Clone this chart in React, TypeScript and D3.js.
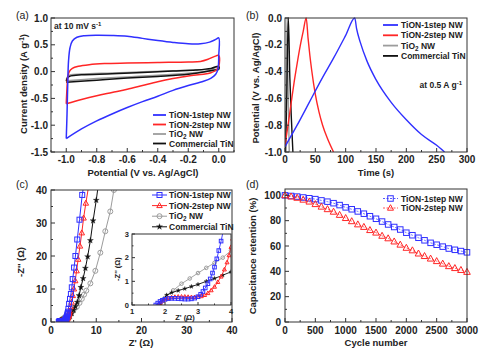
import React from 'react';
import * as d3 from 'd3';

type P = [number, number];

// ---------- Panel (a): CV ----------
const cvBlue: P[] = [[-1.0,-1.25],[-0.995,-0.8],[-0.99,-0.2],[-0.985,0.2],[-0.975,0.45],[-0.96,0.57],[-0.93,0.64],[-0.88,0.67],[-0.8,0.68],[-0.7,0.675],[-0.6,0.66],[-0.5,0.62],[-0.4,0.58],[-0.3,0.545],[-0.2,0.52],[-0.12,0.52],[-0.06,0.55],[-0.02,0.6],[0.0,0.63],[0.0,0.3],[-0.005,0.05],[-0.02,-0.05],[-0.05,-0.12],[-0.1,-0.18],[-0.2,-0.26],[-0.3,-0.35],[-0.4,-0.46],[-0.5,-0.56],[-0.6,-0.67],[-0.7,-0.79],[-0.8,-0.92],[-0.9,-1.07],[-1.0,-1.25]];
const cvRed: P[] = [[-1.0,-0.6],[-0.995,-0.3],[-0.99,-0.1],[-0.98,0.0],[-0.96,0.06],[-0.92,0.1],[-0.85,0.13],[-0.75,0.15],[-0.6,0.16],[-0.4,0.17],[-0.2,0.18],[-0.12,0.19],[-0.07,0.23],[-0.03,0.28],[0.0,0.3],[0.0,0.1],[-0.02,0.02],[-0.05,-0.02],[-0.1,-0.05],[-0.2,-0.08],[-0.3,-0.13],[-0.4,-0.19],[-0.5,-0.26],[-0.6,-0.33],[-0.7,-0.39],[-0.8,-0.45],[-0.9,-0.52],[-1.0,-0.6]];
const cvGray: P[] = [[-1.0,-0.15],[-0.99,-0.09],[-0.97,-0.06],[-0.9,-0.045],[-0.7,-0.025],[-0.5,-0.005],[-0.3,0.015],[-0.15,0.03],[-0.05,0.05],[0.0,0.08],[0.0,0.04],[-0.05,0.01],[-0.2,-0.03],[-0.4,-0.07],[-0.6,-0.1],[-0.8,-0.13],[-1.0,-0.17]];
const cvBlack: P[] = [[-1.0,-0.18],[-0.99,-0.11],[-0.97,-0.08],[-0.9,-0.06],[-0.7,-0.04],[-0.5,-0.015],[-0.3,0.01],[-0.15,0.03],[-0.05,0.06],[0.0,0.1],[0.0,0.05],[-0.05,0.02],[-0.2,-0.05],[-0.4,-0.09],[-0.6,-0.12],[-0.8,-0.16],[-1.0,-0.2]];
const aXTicks = [-1.0,-0.8,-0.6,-0.4,-0.2,0.0];
const aXLabels = ['-1.0','-0.8','-0.6','-0.4','-0.2','0.0'];
const aYTicks = [-1.5,-1.0,-0.5,0.0,0.5,1.0];
const aYLabels = ['-1.5','-1.0','-0.5','0.0','0.5','1.0'];

// ---------- Panel (b): GCD ----------
const gcdBlue: P[] = [[0,-0.96],[20,-0.8],[40,-0.63],[60,-0.46],[80,-0.3],[100,-0.13],[115,0],[118,-0.08],[124,-0.18],[135,-0.32],[150,-0.46],[175,-0.63],[200,-0.76],[225,-0.87],[250,-0.95],[263,-1.0]];
const gcdRed: P[] = [[0,-0.95],[5,-0.8],[10,-0.64],[15,-0.48],[20,-0.34],[25,-0.21],[30,-0.1],[35,0],[38,-0.15],[41,-0.28],[44,-0.39],[50,-0.57],[56,-0.7],[62,-0.8],[70,-0.9],[80,-1.0]];
const gcdGray: P[] = [[0.5,-1.0],[2,-0.5],[3.5,0],[5,-0.5],[7,-1.0]];
const gcdBlack: P[] = [[1,-1.0],[3,-0.55],[5.5,0],[8,-0.45],[10.5,-0.75],[13,-1.0]];
const bXTicks = [0,50,100,150,200,250,300];
const bYTicks = [-1.0,-0.8,-0.6,-0.4,-0.2,0.0];
const bYLabels = ['-1.0','-0.8','-0.6','-0.4','-0.2','0.0'];

// ---------- Panel (c): Nyquist ----------
const nyBlueLow: P[] = [[1.72,0.0],[1.78,0.08],[1.85,0.15],[1.92,0.2],[2.0,0.24],[2.1,0.27],[2.2,0.28],[2.3,0.28],[2.4,0.27],[2.5,0.26],[2.6,0.25],[2.7,0.25],[2.8,0.26],[2.9,0.29],[3.0,0.35],[3.08,0.45],[3.15,0.57],[3.22,0.72],[3.3,0.9],[3.37,1.1],[3.44,1.35],[3.5,1.6],[3.57,1.95],[3.63,2.3],[3.7,2.7],[3.76,3.1]];
const nyBlueHigh: P[] = [[3.85,4],[4.0,5.5],[4.2,7],[4.4,8.5],[4.6,10.5],[4.8,13],[5.1,16.5],[5.4,20],[5.8,25],[6.3,31],[6.9,38.5],[7.2,41]];
const nyRedLow: P[] = [[1.8,0.0],[1.86,0.1],[1.93,0.18],[2.0,0.24],[2.1,0.29],[2.2,0.32],[2.3,0.34],[2.4,0.35],[2.5,0.35],[2.6,0.35],[2.7,0.34],[2.8,0.33],[2.9,0.33],[3.0,0.34],[3.1,0.37],[3.2,0.42],[3.3,0.5],[3.4,0.62],[3.5,0.77],[3.6,0.97],[3.7,1.2],[3.8,1.5],[3.88,1.8],[3.94,2.1],[4.0,2.45],[4.05,2.8]];
const nyRedHigh: P[] = [[4.15,3.3],[4.35,4.6],[4.55,6],[4.8,8],[5.05,10],[5.35,12.5],[5.65,15.5],[6.0,19],[6.4,23],[6.8,27],[7.2,31.5],[7.7,36],[8.3,41]];
const nyGrayLow: P[] = [[1.85,0.0],[2.0,0.3],[2.25,0.62],[2.5,0.9],[2.75,1.12],[3.0,1.35],[3.25,1.57],[3.5,1.78],[3.75,2.0],[4.0,2.3]];
const nyGrayHigh: P[] = [[4.3,2.7],[4.6,3.1],[5.0,3.7],[5.7,4.6],[6.3,5.8],[6.8,7],[7.3,8.3],[7.8,9.5],[8.7,11.7],[9.8,15.5],[10.9,21],[12.0,27.5],[13.1,33.5],[13.9,40],[14.1,41.5]];
const nyBlackLow: P[] = [[1.85,0.0],[1.95,0.25],[2.05,0.42],[2.2,0.52],[2.4,0.61],[2.6,0.69],[2.8,0.78],[3.0,0.87],[3.25,1.0],[3.5,1.12],[3.75,1.26],[4.0,1.4]];
const nyBlackHigh: P[] = [[4.2,1.7],[4.6,2.6],[5.0,3.6],[5.4,4.7],[5.8,6],[6.2,8],[6.6,10.5],[7.1,13.2],[7.6,16.3],[8.1,19.8],[8.7,24.7],[9.3,30.7],[10.0,36.9],[10.4,41]];
const cTicks = [0,10,20,30,40];
const insetXTicks = [1,2,3,4];
const insetYTicks = [0,1,2,3];

// ---------- Panel (d): cycling ----------
const cycles = [0,100,200,300,400,500,600,700,800,900,1000,1100,1200,1300,1400,1500,1600,1700,1800,1900,2000,2100,2200,2300,2400,2500,2600,2700,2800,2900,3000];
const retBlue = [100,99.5,99,98.3,97.7,97,96,95,93.8,92.3,90.5,89,87.3,85.5,83.5,81.5,79.3,77,75,73,70.5,68.5,66.5,64.5,62.5,61,59.5,58,57,56,55];
const retRed = [100,99,98,96.5,95,93,91,89,87,84.5,82,79.5,77,75,72.5,70.5,68,66,63.5,61,58.5,56.5,54,52,50,48,46,44,42.5,41,39.5];
const dXTicks = [0,500,1000,1500,2000,2500,3000];
const dYTicks = [0,20,40,60,80,100];

const seriesNames = ['TiON-1step NW','TiON-2step NW','TiO2 NW','Commercial TiN'];

const FONT = "'Liberation Sans', Arial, Helvetica, sans-serif";
const BLUE = '#3030ff';
const RED = '#ff2626';
const GRAY = '#9c9c9c';
const BLACK = '#111111';
const FRAME = '#333333';

type Scale = d3.ScaleLinear<number, number>;

function Frame({ xs, ys, xMaj, xMin, yMaj, yMin, xLab, yLab, fs = 10, xLabOff = 11, yLabOff = 3, tick = 4 }:
  { xs: Scale; ys: Scale; xMaj: number[]; xMin: number[]; yMaj: number[]; yMin: number[]; xLab: string[]; yLab: string[]; fs?: number; xLabOff?: number; yLabOff?: number; tick?: number }) {
  const [x0, x1] = xs.range();
  const [y1, y0] = ys.range();
  return (
    <g>
      <rect x={x0} y={y0} width={x1 - x0} height={y1 - y0} fill="none" stroke={FRAME} strokeWidth={1} />
      {xMaj.map((t, i) => <line key={'xM' + i} x1={xs(t)} x2={xs(t)} y1={y1} y2={y1 - tick} stroke={FRAME} />)}
      {xMin.map((t, i) => <line key={'xm' + i} x1={xs(t)} x2={xs(t)} y1={y1} y2={y1 - tick / 2} stroke={FRAME} />)}
      {yMaj.map((t, i) => <line key={'yM' + i} x1={x0} x2={x0 + tick} y1={ys(t)} y2={ys(t)} stroke={FRAME} />)}
      {yMin.map((t, i) => <line key={'ym' + i} x1={x0} x2={x0 + tick / 2} y1={ys(t)} y2={ys(t)} stroke={FRAME} />)}
      {xMaj.map((t, i) => <text key={'xl' + i} x={xs(t)} y={y1 + xLabOff} textAnchor="middle" fontSize={fs} fontWeight="bold" fill="#222">{xLab[i]}</text>)}
      {yMaj.map((t, i) => <text key={'yl' + i} x={x0 - yLabOff} y={ys(t) + fs * 0.35} textAnchor="end" fontSize={fs} fontWeight="bold" fill="#222">{yLab[i]}</text>)}
    </g>
  );
}

function Marker({ type, x, y, s, color }: { type: string; x: number; y: number; s: number; color: string }) {
  if (type === 'square') return <rect x={x - s / 2} y={y - s / 2} width={s} height={s} fill="none" stroke={color} strokeWidth={1} />;
  if (type === 'triangle') return <path d={`M${x},${y - s * 0.6}L${x - s * 0.55},${y + s * 0.4}L${x + s * 0.55},${y + s * 0.4}Z`} fill="none" stroke={color} strokeWidth={1} />;
  if (type === 'circle') return <circle cx={x} cy={y} r={s / 2} fill="none" stroke={color} strokeWidth={1} />;
  const sym = d3.symbol().type(d3.symbolStar).size(s * s * 0.45)();
  return <path d={sym || ''} transform={`translate(${x},${y})`} fill={color} stroke={color} strokeWidth={0.3} />;
}

function LegendName({ name }: { name: string }) {
  if (name === 'TiO2 NW') return <>TiO<tspan fontSize="0.75em" dy={2}>2</tspan><tspan dy={-2}> NW</tspan></>;
  return <>{name}</>;
}

const frameA = { x0: 51, x1: 234, y0: 18, y1: 152 };
const frameB = { x0: 285, x1: 467, y0: 18, y1: 152 };
const frameC = { x0: 51, x1: 232, y0: 190, y1: 322 };
const frameD = { x0: 285, x1: 467, y0: 189, y1: 322 };
const frameI = { x0: 132, x1: 231, y0: 234, y1: 305 };

export default function App() {
  const xA = d3.scaleLinear().domain([-1.1, 0.1]).range([frameA.x0, frameA.x1]);
  const yA = d3.scaleLinear().domain([-1.5, 1.0]).range([frameA.y1, frameA.y0]);
  const xB = d3.scaleLinear().domain([0, 300]).range([frameB.x0, frameB.x1]);
  const yB = d3.scaleLinear().domain([-1.0, 0.0]).range([frameB.y1, frameB.y0]);
  const xC = d3.scaleLinear().domain([0, 40]).range([frameC.x0, frameC.x1]);
  const yC = d3.scaleLinear().domain([0, 40]).range([frameC.y1, frameC.y0]);
  const xI = d3.scaleLinear().domain([1, 4]).range([frameI.x0, frameI.x1]);
  const yI = d3.scaleLinear().domain([0, 3]).range([frameI.y1, frameI.y0]);
  const xD = d3.scaleLinear().domain([0, 3000]).range([frameD.x0, frameD.x1]);
  const yD = d3.scaleLinear().domain([0, 105]).range([frameD.y1, frameD.y0]);

  const mk = (xs: Scale, ys: Scale, curve: d3.CurveFactory = d3.curveCatmullRom.alpha(0.5)) =>
    d3.line<P>().x(d => xs(d[0])).y(d => ys(d[1])).curve(curve);
  const lineA = mk(xA, yA);
  const lineB = mk(xB, yB, d3.curveMonotoneX);
  const lineC = mk(xC, yC, d3.curveLinear);
  const lineI = mk(xI, yI, d3.curveLinear);
  const lineD = mk(xD, yD, d3.curveLinear);

  const cvSeries = [
    { d: cvGray, c: GRAY }, { d: cvBlack, c: BLACK }, { d: cvRed, c: RED }, { d: cvBlue, c: BLUE },
  ];
  const gcdSeries = [
    { d: gcdGray, c: GRAY }, { d: gcdBlack, c: BLACK }, { d: gcdRed, c: RED }, { d: gcdBlue, c: BLUE },
  ];
  const nySeries = [
    { d: nyGrayLow.concat(nyGrayHigh), c: GRAY, m: 'circle' },
    { d: nyBlackLow.concat(nyBlackHigh), c: BLACK, m: 'star' },
    { d: nyRedLow.concat(nyRedHigh), c: RED, m: 'triangle' },
    { d: nyBlueLow.concat(nyBlueHigh), c: BLUE, m: 'square' },
  ];
  const legendColors = [BLUE, RED, GRAY, BLACK];
  const legendMarkers = ['square', 'triangle', 'circle', 'star'];

  const minorRange = (a: number, b: number, step: number, major: number[]) =>
    d3.range(a, b + step / 2, step).filter(v => !major.some(m => Math.abs(m - v) < step / 10));

  const dBlue: P[] = cycles.map((c, i) => [c, retBlue[i]]);
  const dRed: P[] = cycles.map((c, i) => [c, retRed[i]]);

  return (
    <svg width={488} height={354} style={{ position: 'absolute', left: 0, top: 0, background: '#fff' }} fontFamily={FONT}>
      <defs>
        <clipPath id="clipA"><rect x={frameA.x0} y={frameA.y0} width={frameA.x1 - frameA.x0} height={frameA.y1 - frameA.y0} /></clipPath>
        <clipPath id="clipB"><rect x={frameB.x0} y={frameB.y0 - 1} width={frameB.x1 - frameB.x0} height={frameB.y1 - frameB.y0 + 1} /></clipPath>
        <clipPath id="clipC"><rect x={frameC.x0} y={frameC.y0} width={frameC.x1 - frameC.x0} height={frameC.y1 - frameC.y0} /></clipPath>
        <clipPath id="clipI"><rect x={frameI.x0} y={frameI.y0} width={frameI.x1 - frameI.x0} height={frameI.y1 - frameI.y0} /></clipPath>
      </defs>
      <rect x={0} y={0} width={488} height={354} fill="#fff" />

      {/* Panel labels */}
      <text x={16} y={19} fontSize={10.5} fill="#222">(a)</text>
      <text x={246} y={19} fontSize={10.5} fill="#222">(b)</text>
      <text x={16} y={188} fontSize={10.5} fill="#222">(c)</text>
      <text x={246} y={188} fontSize={10.5} fill="#222">(d)</text>

      {/* ===== Panel A ===== */}
      <g clipPath="url(#clipA)">
        {cvSeries.map((s, i) => <path key={i} d={lineA(s.d) || ''} fill="none" stroke={s.c} strokeWidth={1.5} />)}
      </g>
      <Frame xs={xA} ys={yA} xMaj={aXTicks} xMin={minorRange(-1.1, 0.1, 0.1, aXTicks)} yMaj={aYTicks} yMin={minorRange(-1.5, 1.0, 0.25, aYTicks)} xLab={aXLabels} yLab={aYLabels} />
      <text x={54} y={29} fontSize={8.5} fontWeight="bold" fill="#222">at 10 mV s<tspan fontSize={6} dy={-3}>-1</tspan></text>
      {seriesNames.map((n, i) => (
        <g key={i}>
          <line x1={153} x2={166} y1={115 + i * 9.5} y2={115 + i * 9.5} stroke={legendColors[i]} strokeWidth={1.8} />
          <text x={169} y={115 + i * 9.5 + 3} fontSize={8.5} fontWeight="bold" fill="#222"><LegendName name={n} /></text>
        </g>
      ))}
      <text x={143} y={176} textAnchor="middle" fontSize={9.5} fontWeight="bold" fill="#222">Potential (V vs. Ag/AgCl)</text>
      <text transform="translate(26.5,84) rotate(-90)" textAnchor="middle" fontSize={9.5} fontWeight="bold" fill="#222">Current density (A g<tspan fontSize={6.5} dy={-3}>-1</tspan><tspan dy={3}>)</tspan></text>

      {/* ===== Panel B ===== */}
      <g clipPath="url(#clipB)">
        {gcdSeries.map((s, i) => <path key={i} d={lineB(s.d) || ''} fill="none" stroke={s.c} strokeWidth={1.4} />)}
      </g>
      <Frame xs={xB} ys={yB} xMaj={bXTicks} xMin={minorRange(0, 300, 25, bXTicks)} yMaj={bYTicks} yMin={minorRange(-1, 0, 0.1, bYTicks)} xLab={bXTicks.map(String)} yLab={bYLabels} />
      {seriesNames.map((n, i) => (
        <g key={i}>
          <line x1={383} x2={398} y1={25 + i * 10.3} y2={25 + i * 10.3} stroke={legendColors[i]} strokeWidth={1.8} />
          <text x={401} y={25 + i * 10.3 + 3} fontSize={8.5} fontWeight="bold" fill="#222"><LegendName name={n} /></text>
        </g>
      ))}
      <text x={462} y={88} textAnchor="end" fontSize={8.5} fontWeight="bold" fill="#222">at 0.5 A g<tspan fontSize={6} dy={-3}>-1</tspan></text>
      <text x={376} y={176} textAnchor="middle" fontSize={9.5} fontWeight="bold" fill="#222">Time (s)</text>
      <text transform="translate(259,88) rotate(-90)" textAnchor="middle" fontSize={9.5} fontWeight="bold" fill="#222">Potential (V vs. Ag/AgCl)</text>

      {/* ===== Panel C ===== */}
      <g clipPath="url(#clipC)">
        {nySeries.map((s, i) => (
          <g key={i}>
            <path d={lineC(s.d) || ''} fill="none" stroke={s.c} strokeWidth={1} />
            {s.d.map((p, j) => <Marker key={j} type={s.m} x={xC(p[0])} y={yC(p[1])} s={5} color={s.c} />)}
          </g>
        ))}
      </g>
      <Frame xs={xC} ys={yC} xMaj={cTicks} xMin={minorRange(0, 40, 5, cTicks)} yMaj={cTicks} yMin={minorRange(0, 40, 5, cTicks)} xLab={cTicks.map(String)} yLab={cTicks.map(String)} xLabOff={12} yLabOff={4} />
      {seriesNames.map((n, i) => {
        const y = 195 + i * 10.6;
        return (
          <g key={i}>
            <line x1={152} x2={167} y1={y} y2={y} stroke={legendColors[i]} strokeWidth={1} />
            <Marker type={legendMarkers[i]} x={159.5} y={y} s={5} color={legendColors[i]} />
            <text x={169} y={y + 3} fontSize={8.5} fontWeight="bold" fill="#222"><LegendName name={n} /></text>
          </g>
        );
      })}
      {/* inset */}
      <rect x={frameI.x0} y={frameI.y0} width={frameI.x1 - frameI.x0} height={frameI.y1 - frameI.y0} fill="#fff" />
      <g clipPath="url(#clipI)">
        {nySeries.map((s, i) => (
          <g key={i}>
            <path d={lineI(s.d) || ''} fill="none" stroke={s.c} strokeWidth={0.9} />
            {s.d.map((p, j) => <Marker key={j} type={s.m} x={xI(p[0])} y={yI(p[1])} s={3.6} color={s.c} />)}
          </g>
        ))}
      </g>
      <Frame xs={xI} ys={yI} xMaj={insetXTicks} xMin={[1.5, 2.5, 3.5]} yMaj={insetYTicks} yMin={[0.5, 1.5, 2.5]} xLab={insetXTicks.map(String)} yLab={insetYTicks.map(String)} fs={7.5} xLabOff={8.5} yLabOff={3} tick={3} />
      <text x={185} y={320} textAnchor="middle" fontSize={7.5} fontWeight="bold" fill="#222">Z' (Ω)</text>
      <text transform="translate(119.5,269) rotate(-90)" textAnchor="middle" fontSize={7.5} fontWeight="bold" fill="#222">-Z'' (Ω)</text>
      <text x={141} y={346} textAnchor="middle" fontSize={9.5} fontWeight="bold" fill="#222">Z' (Ω)</text>
      <text transform="translate(24,262) rotate(-90)" textAnchor="middle" fontSize={9.5} fontWeight="bold" fill="#222">-Z'' (Ω)</text>

      {/* ===== Panel D ===== */}
      <path d={lineD(dBlue) || ''} fill="none" stroke={BLUE} strokeWidth={0.7} strokeDasharray="2,1.5" />
      <path d={lineD(dRed) || ''} fill="none" stroke={RED} strokeWidth={0.7} strokeDasharray="2,1.5" />
      {dBlue.map((p, j) => <Marker key={'b' + j} type="square" x={xD(p[0])} y={yD(p[1])} s={5.5} color={BLUE} />)}
      {dRed.map((p, j) => <Marker key={'r' + j} type="triangle" x={xD(p[0])} y={yD(p[1])} s={6} color={RED} />)}
      <Frame xs={xD} ys={yD} xMaj={dXTicks} xMin={minorRange(0, 3000, 250, dXTicks)} yMaj={dYTicks} yMin={minorRange(0, 100, 10, dYTicks)} xLab={dXTicks.map(String)} yLab={dYTicks.map(String)} xLabOff={12} yLabOff={4} />
      {[0, 1].map(i => {
        const y = 198.5 + i * 9.5;
        const c = legendColors[i];
        return (
          <g key={i}>
            <line x1={383} x2={398} y1={y} y2={y} stroke={c} strokeWidth={0.8} strokeDasharray="2,1.5" />
            <Marker type={legendMarkers[i]} x={390.5} y={y} s={5.5} color={c} />
            <text x={401} y={y + 3} fontSize={8.5} fontWeight="bold" fill="#222">{seriesNames[i]}</text>
          </g>
        );
      })}
      <text x={376} y={346} textAnchor="middle" fontSize={9.5} fontWeight="bold" fill="#222">Cycle number</text>
      <text transform="translate(256,256) rotate(-90)" textAnchor="middle" fontSize={9.5} fontWeight="bold" fill="#222">Capacitance retention (%)</text>
    </svg>
  );
}
